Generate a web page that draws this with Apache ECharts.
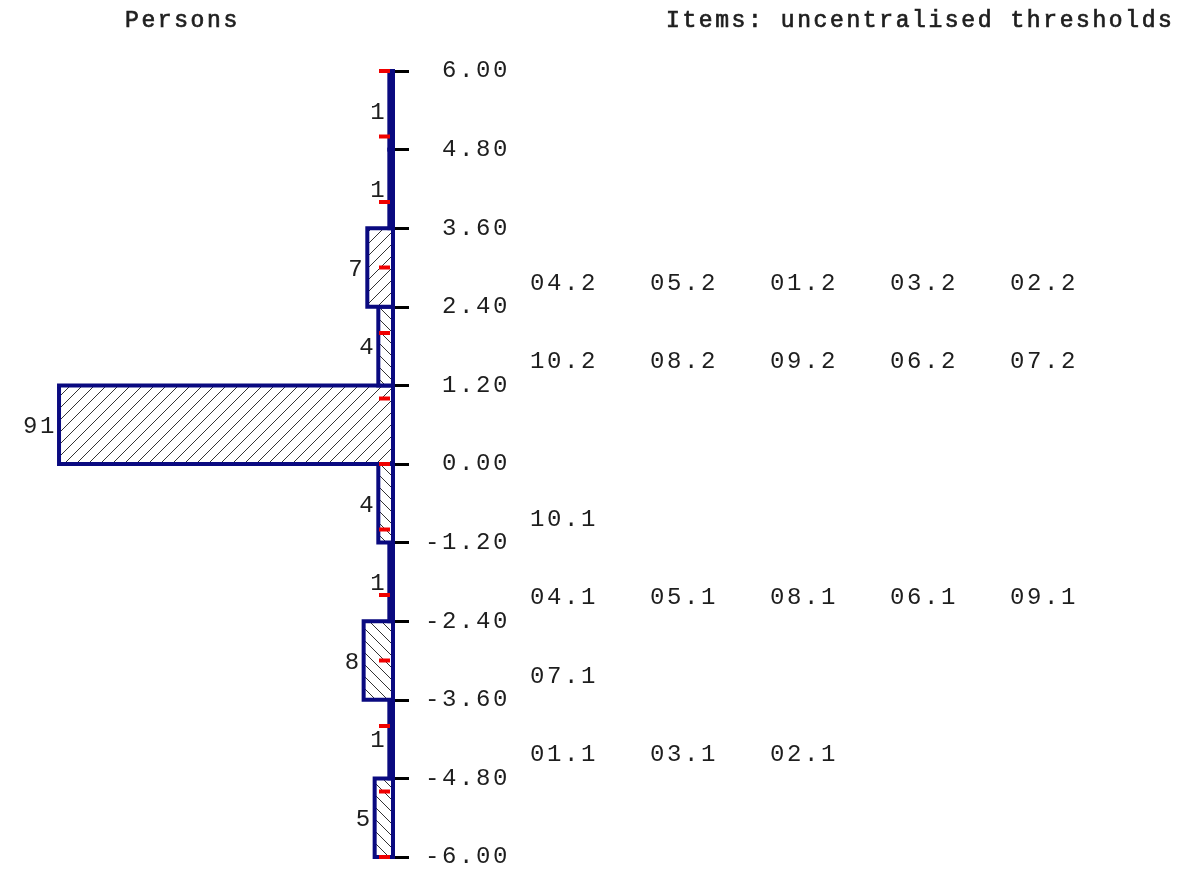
<!DOCTYPE html>
<html>
<head>
<meta charset="utf-8">
<script src="https://cdn.jsdelivr.net/npm/echarts@6/dist/echarts.min.js"></script>
<style>
html,body{margin:0;padding:0;background:#fff;}
#main{width:1193px;height:872px;}
</style>
</head>
<body>
<div id="main"></div>
<script>
// ---- data ----
const binLower = [-6.0, -4.8, -3.6, -2.4, -1.2, 0.0, 1.2, 2.4, 3.6, 4.8];
const binUpper = [-4.8, -3.6, -2.4, -1.2, 0.0, 1.2, 2.4, 3.6, 4.8, 6.0];
const personCounts = [5, 1, 8, 1, 4, 91, 4, 7, 1, 1];
const itemThresholds = [
  [],
  ['01.1', '03.1', '02.1'],
  ['07.1'],
  ['04.1', '05.1', '08.1', '06.1', '09.1'],
  ['10.1'],
  [],
  ['10.2', '08.2', '09.2', '06.2', '07.2'],
  ['04.2', '05.2', '01.2', '03.2', '02.2'],
  [],
  []
];
const unitMarks = [-6, -5, -4, -3, -2, -1, 0, 1, 2, 3, 4, 5, 6];
const axisMin = -6, axisMax = 6, axisStep = 1.2;
const titlePersons = 'Persons';
const titleItems = 'Items: uncentralised thresholds';

// ---- styles ----
const hatchForward = [false, false, false, false, false, true, false, true, false, false];
const NAVY = '#0a0a80';
const TXT = '#1e1e1e';
const FONT = '"Liberation Mono", "DejaVu Sans Mono", monospace';
const FS = 24;
const LS = '2.6px';

// letter spacing for the monospace bitmap-like look
(function () {
  const proto = CanvasRenderingContext2D.prototype;
  const desc = Object.getOwnPropertyDescriptor(proto, 'font');
  if (desc && ('letterSpacing' in proto)) {
    Object.defineProperty(proto, 'font', {
      configurable: true,
      get() { return desc.get.call(this); },
      set(v) { desc.set.call(this, v); try { this.letterSpacing = LS; } catch (e) {} }
    });
  }
})();

function makeHatch(forward) {
  const s = 12;
  const c = document.createElement('canvas');
  c.width = s; c.height = s;
  const ctx = c.getContext('2d');
  ctx.fillStyle = '#fff';
  ctx.fillRect(0, 0, s, s);
  ctx.strokeStyle = '#333';
  ctx.lineWidth = 1;
  ctx.beginPath();
  for (let k = -1; k <= 1; k++) {
    if (forward) { ctx.moveTo(k * s, s); ctx.lineTo(k * s + s, 0); }
    else { ctx.moveTo(k * s, 0); ctx.lineTo(k * s + s, s); }
  }
  ctx.stroke();
  return c;
}
const hatchF = makeHatch(true);
const hatchB = makeHatch(false);

const barData = binLower.map((lo, i) => [lo, binUpper[i], personCounts[i], i]);
const itemData = [];
const itemNames = [];
itemThresholds.forEach((list, i) => {
  const center = (binLower[i] + binUpper[i]) / 2;
  list.forEach((name, j) => {
    itemData.push([j, center, itemNames.length]);
    itemNames.push(name);
  });
});

const chart = echarts.init(document.getElementById('main'), null, { renderer: 'canvas' });
const headFont = '23px ' + FONT;
const option = {
  animation: false,
  backgroundColor: '#fff',
  grid: [
    { left: 26, right: 800, top: 71, bottom: 15 },
    { left: 530, width: 600, top: 71, bottom: 15 }
  ],
  xAxis: [
    { gridIndex: 0, type: 'value', min: 0, max: 100, inverse: true, show: false },
    { gridIndex: 1, type: 'value', min: 0, max: 5, show: false }
  ],
  yAxis: [
    {
      gridIndex: 0, type: 'value', min: axisMin, max: axisMax, interval: axisStep,
      position: 'right',
      axisLine: { show: true, lineStyle: { color: NAVY, width: 4 } },
      axisTick: { show: true, inside: false, length: 16, lineStyle: { color: '#000', width: 3 } },
      axisLabel: {
        show: true, align: 'right', margin: 117,
        formatter: v => v.toFixed(2),
        fontFamily: FONT, fontSize: FS, color: TXT
      },
      splitLine: { show: false }
    },
    { gridIndex: 1, type: 'value', min: axisMin, max: axisMax, show: false }
  ],
  graphic: [
    { type: 'text', x: 125, y: 21, style: { text: titlePersons, font: headFont, fill: TXT, stroke: TXT, lineWidth: 0.7, textVerticalAlign: 'middle' } },
    { type: 'text', x: 666, y: 21, style: { text: titleItems, font: headFont, fill: TXT, stroke: TXT, lineWidth: 0.7, textVerticalAlign: 'middle' } }
  ],
  series: [
    {
      type: 'custom', xAxisIndex: 0, yAxisIndex: 0, z: 2,
      data: barData,
      renderItem: function (params, api) {
        const lo = api.value(0), hi = api.value(1), n = api.value(2), idx = api.value(3);
        const pTop = api.coord([n, hi]);
        const pBot = api.coord([0, lo]);
        const x = pTop[0], y = pTop[1];
        const w = pBot[0] - pTop[0], h = pBot[1] - pTop[1];
        return {
          type: 'group',
          children: [
            {
              type: 'rect',
              shape: { x: x, y: y, width: w, height: h },
              style: { fill: { image: hatchForward[idx] ? hatchF : hatchB, repeat: 'repeat' }, stroke: NAVY, lineWidth: 4 }
            },
            {
              type: 'text',
              x: x - 2, y: y + h / 2 + 2,
              style: { text: String(n), font: FS + 'px ' + FONT, fill: TXT, textAlign: 'right', textVerticalAlign: 'middle' }
            }
          ]
        };
      }
    },
    {
      type: 'custom', xAxisIndex: 0, yAxisIndex: 0, z: 3,
      data: unitMarks.map(v => [0, v]),
      renderItem: function (params, api) {
        const p = api.coord([api.value(0), api.value(1)]);
        return {
          type: 'rect',
          shape: { x: p[0] - 14, y: p[1] - 2, width: 11, height: 4 },
          style: { fill: '#f00000' }
        };
      }
    },
    {
      type: 'custom', xAxisIndex: 1, yAxisIndex: 1, z: 2,
      data: itemData,
      renderItem: function (params, api) {
        const p = api.coord([api.value(0), api.value(1)]);
        return {
          type: 'text',
          x: p[0], y: p[1] + 16,
          style: { text: itemNames[api.value(2)], font: FS + 'px ' + FONT, fill: TXT, textAlign: 'left', textVerticalAlign: 'middle' }
        };
      }
    }
  ]
};
chart.setOption(option);
</script>
</body>
</html>
